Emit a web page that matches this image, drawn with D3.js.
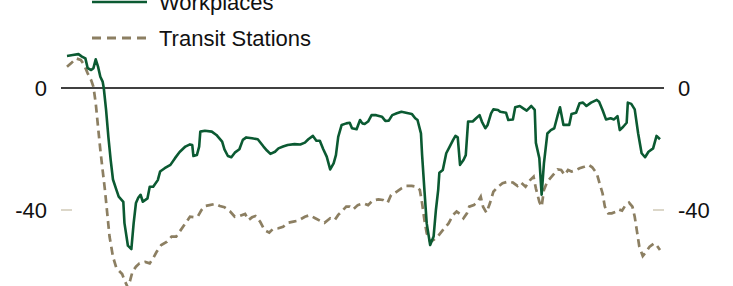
<!DOCTYPE html>
<html>
<head>
<meta charset="utf-8">
<script src="https://cdn.jsdelivr.net/npm/d3@7/dist/d3.min.js"></script>
<style>
  html, body { margin: 0; padding: 0; background: #fff; }
  svg { display: block; font-family: "Liberation Sans", Arial, sans-serif; }
</style>
</head>
<body>
<div id="chart"></div>
<script>
// Day offsets count from 2020-02-15, values are % change from baseline
const workplaces = [
    [0, 10.5], [5, 10.8], [10, 11.1], [13, 10.3], [16, 9.7], [18, 6.5], [21, 5.9], [23, 6.5],
    [25, 9.4], [27, 7], [29, 3.7], [31, 2.1], [32, 0], [34, -7.2], [36, -16], [38, -23.6],
    [40, -30], [43, -33.4], [45, -35.6], [49, -37.3], [50, -44.3], [53, -51.7], [56, -52.8],
    [58, -44.3], [60, -37.7], [62, -36], [64, -35], [66, -37.3], [70, -36.2], [72, -32.4],
    [75, -32.4], [79, -30.2], [81, -27.4], [85, -26.3], [90, -25.2], [94, -23], [98, -21],
    [103, -19.2], [107, -18.5], [109, -18.7], [110, -22.3], [113, -22], [115, -19.2], [116, -14.3],
    [120, -14], [126, -14.3], [130, -15.4], [135, -17.6], [137, -20.1], [140, -22.3], [143, -22.7],
    [146, -21.2], [150, -20.1], [153, -17], [156, -16.2], [161, -16.5], [166, -16.8], [171, -19.2],
    [174, -20.5], [177, -21.6], [181, -20.9], [184, -19.8], [188, -19.2], [192, -18.7], [198, -18.4],
    [203, -18.5], [207, -17.9], [210, -16.8], [214, -15.7], [217, -17.3], [220, -17.3], [223, -20.1],
    [226, -22.5], [229, -26.7], [232, -24.7], [234, -22], [236, -16], [239, -12.1], [243, -11.6],
    [246, -11.4], [248, -13.2], [252, -13.5], [255, -10.5], [257, -11.6], [259, -11.8], [262, -11],
    [265, -8.9], [269, -8.9], [274, -9.4], [277, -10.8], [280, -10.7], [283, -8.9], [287, -8.3],
    [291, -7.8], [295, -8.1], [300, -8.5], [303, -9.9], [305, -10.5], [308, -14.9], [309, -22],
    [311, -33.4], [313, -44.4], [316, -51.5], [319, -48.7], [321, -40], [323, -33.4], [324, -27.8],
    [327, -26.9], [330, -21.4], [333, -19.2], [336, -17], [338, -15.7], [340, -16.2], [342, -25.2],
    [345, -23.6], [347, -22], [349, -11], [353, -11], [356, -9.9], [359, -8.9], [361, -11],
    [364, -13.2], [366, -12.1], [369, -8.3], [371, -7], [375, -7.2], [377, -7.8], [382, -8.1],
    [384, -10.5], [388, -10.3], [390, -6.3], [394, -5.9], [397, -6.7], [400, -7.4], [404, -5.9],
    [407, -7.2], [408, -18], [411, -23], [413, -35], [415, -24.7], [418, -14.9], [421, -13.8],
    [424, -13.2], [427, -8.9], [429, -6.3], [432, -12.1], [437, -12.1], [439, -8.5], [443, -8.1],
    [446, -5], [449, -4.8], [452, -5.9], [456, -4.8], [461, -3.9], [463, -4.5], [466, -7.2],
    [469, -10.3], [473, -9.9], [476, -10.3], [479, -9.2], [481, -13.8], [484, -12.7], [487, -11.4],
    [488, -4.8], [491, -5.2], [494, -7], [497, -14.9], [500, -21.4], [503, -22.7], [506, -20.9],
    [510, -19.8], [513, -15.7], [516, -16.8]
];

const transit = [
    [0, 7], [4, 8.3], [8, 9.7], [12, 9.2], [15, 7.5], [18, 4.8], [21, 2.6], [23, 0.4],
    [25, -5], [27, -12.7], [29, -20.3], [31, -26.9], [33, -33.4], [35, -41], [37, -48.7],
    [40, -55.3], [43, -59.1], [48, -61], [50, -63], [53, -65.5], [55, -63], [57, -60.2],
    [60, -58.6], [63, -57.5], [68, -57], [72, -57.5], [75, -55.8], [78, -53.7], [82, -51.5],
    [87, -50.4], [91, -48.7], [95, -48.7], [98, -47.1], [103, -44.4], [107, -42.2], [111, -42.4],
    [114, -42], [117, -40], [120, -38.7], [124, -38.4], [129, -38], [133, -38.7], [137, -39.1],
    [142, -40.5], [146, -42.2], [150, -42], [155, -41.3], [158, -43.3], [161, -42.4], [164, -42],
    [168, -43.8], [172, -46.6], [176, -47.4], [179, -46.3], [184, -46], [188, -45.5], [192, -44.2],
    [197, -43.8], [201, -43.5], [207, -42.2], [211, -41.7], [216, -42.7], [220, -43.5], [224, -44.2],
    [229, -42.7], [233, -43.3], [236, -41.6], [239, -40.5], [243, -38.9], [246, -38.9], [249, -39.8],
    [253, -38.4], [258, -37.8], [262, -38.4], [266, -36.9], [271, -36.5], [275, -36.7], [279, -37.6],
    [282, -35.1], [287, -34], [291, -32.9], [295, -32.1], [300, -32.1], [304, -32.4], [307, -33.4],
    [309, -37.8], [311, -43.3], [313, -47.6], [316, -50.4], [319, -49.8], [323, -48.5], [327, -46.6],
    [332, -44.4], [336, -41.6], [339, -40.5], [342, -41.3], [345, -42.7], [348, -41.1], [350, -38.9],
    [354, -38.4], [358, -36.9], [360, -35.6], [362, -38.9], [365, -40.9], [368, -37.8], [371, -34],
    [375, -32.4], [379, -31.2], [384, -30.7], [388, -31], [392, -32.1], [395, -31], [399, -32.4],
    [403, -30.2], [406, -29.1], [408, -32.9], [411, -37.3], [413, -38.9], [415, -33.4], [418, -30.7],
    [423, -28.5], [427, -26.7], [430, -26.9], [433, -28.5], [436, -26.9], [439, -27.4], [443, -26.9],
    [446, -26.3], [450, -25.8], [454, -25.2], [457, -26], [461, -28], [463, -30.7], [466, -34.5],
    [468, -38.9], [471, -41.1], [474, -41.1], [478, -40.5], [480, -39.8], [483, -40.2], [486, -38.4],
    [489, -37.6], [492, -38.9], [494, -42.2], [496, -47.1], [498, -52], [501, -55.1], [504, -53.7],
    [507, -52], [511, -50.9], [513, -51.5], [516, -53.1]
];

const yTicks = [0, -40];
const seriesNames = ['Workplaces', 'Transit Stations'];

const width = 733;
const height = 286;
const left = 61;
const right = 664;

const svg = d3.select('#chart')
    .append('svg')
    .attr('width', width)
    .attr('height', height);

const start = new Date(2020, 1, 15);
const day = d => d3.timeDay.offset(start, d);

const x = d3.scaleTime()
    .domain([day(0), day(516)])
    .range([left + 6, right - 4]);

const y = d3.scaleLinear()
    .domain([0, -40])
    .range([88, 210]);

// short tick stubs for -40, full line for zero
yTicks.forEach(t => {
    if (t === 0) {
        svg.append('line')
            .attr('x1', left).attr('x2', right)
            .attr('y1', y(t)).attr('y2', y(t))
            .attr('stroke', '#000')
            .attr('stroke-width', 1.7);
    } else {
        [[left, left + 11], [right - 11, right]].forEach(([a, b]) => {
            svg.append('line')
                .attr('x1', a).attr('x2', b)
                .attr('y1', y(t)).attr('y2', y(t))
                .attr('stroke', '#d6d0c0')
                .attr('stroke-width', 1.7);
        });
    }

    svg.append('text')
        .attr('x', left - 14)
        .attr('y', y(t))
        .attr('dy', '0.35em')
        .attr('text-anchor', 'end')
        .style('font-size', '22px')
        .style('fill', '#111')
        .text(t);

    svg.append('text')
        .attr('x', right + 14)
        .attr('y', y(t))
        .attr('dy', '0.35em')
        .attr('text-anchor', 'start')
        .style('font-size', '22px')
        .style('fill', '#111')
        .text(t);
});

const line = d3.line()
    .x(d => x(day(d[0])))
    .y(d => y(d[1]));

svg.append('path')
    .datum(transit)
    .attr('fill', 'none')
    .attr('stroke', '#8c7f62')
    .attr('stroke-width', 2.7)
    .attr('stroke-dasharray', '8,5')
    .attr('d', line);

svg.append('path')
    .datum(workplaces)
    .attr('fill', 'none')
    .attr('stroke', '#0b5a32')
    .attr('stroke-width', 2.6)
    .attr('stroke-linejoin', 'round')
    .attr('d', line);

// Legend
const legend = svg.append('g');
const styles = [
    { color: '#0b5a32', dash: null, width: 2.6 },
    { color: '#8c7f62', dash: '9,6', width: 2.8 }
];

seriesNames.forEach((name, i) => {
    const ly = 2 + i * 36;
    legend.append('line')
        .attr('x1', 92).attr('x2', 147)
        .attr('y1', ly).attr('y2', ly)
        .attr('stroke', styles[i].color)
        .attr('stroke-width', styles[i].width)
        .attr('stroke-dasharray', styles[i].dash);
    legend.append('text')
        .attr('x', 159)
        .attr('y', ly)
        .attr('dy', '0.35em')
        .style('font-size', '22px')
        .style('fill', '#111')
        .text(name);
});
</script>
</body>
</html>
